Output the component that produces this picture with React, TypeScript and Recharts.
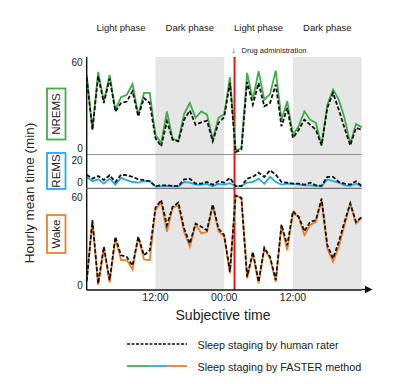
import React from 'react';
import { LineChart, Line, XAxis, YAxis, ReferenceArea, ReferenceLine } from 'recharts';

// hour index from the start of the recording (0 = 00:00 of day 1)
const hours = [
  0, 1, 2, 3, 4, 5, 6, 7, 8, 9, 10, 11, 12, 13, 14, 15, 16, 17, 18, 19, 20, 21, 22, 23, 24,
  25, 26, 27, 28, 29, 30, 31, 32, 33, 34, 35, 36, 37, 38, 39, 40, 41, 42, 43, 44, 45, 46, 47, 48,
];

const nremsHuman = [
  50, 15, 51, 33, 49.4, 27.4, 33, 34, 41, 24, 36.4, 33, 9.4, 3.8, 20.7, 8.3, 7.2, 21.8, 27.9, 18.4, 20, 21.1, 7.2, 19.6, 23.4,
  46.5, 0, 1.6, 47.2, 31.9, 46.5, 30.8, 33, 45.4, 17.3, 29.7, 9.4, 15, 21.8, 18.4, 15, 4.5, 29.7, 39.8, 28.5, 16.2, 4.5, 16.2, 15,
];
const nremsFaster = [
  52, 15, 54, 34, 52, 28.5, 37, 38.6, 45.8, 25, 39.8, 39.8, 11.7, 6, 27.4, 8.8, 7.6, 25.6, 33, 23, 27.4, 25.2, 8.3, 23, 25.6,
  50.4, 0.9, 2.7, 53.3, 35.3, 54.4, 35.3, 39, 54.8, 21.8, 34.2, 11.7, 17.3, 27.4, 21.8, 19.6, 4.5, 31.9, 42, 35.3, 23, 5.4, 18.9, 16.6,
];
const remsHuman = [
  9.3, 6.1, 8.2, 5, 8.8, 3.5, 9.3, 8.8, 7.5, 5.6, 5, 4.1, 0.2, 0.9, 0.9, 0.5, 0.2, 5.6, 6.1, 2.2, 2.2, 3.5, 1.4, 4.1, 3,
  6.7, 0.2, 0.2, 6.1, 7.5, 10.8, 7.5, 12.7, 9.3, 3.5, 3, 2.2, 2.2, 1.4, 3, 0.9, 0.5, 7.5, 7.5, 3.5, 2.2, 1.4, 4.1, 0.2,
];
const remsFaster = [
  7.5, 4.1, 5.6, 2.2, 6.1, 1.4, 6.7, 4.9, 3.5, 3, 4.1, 4.1, 0, 0.2, 0.5, 0.2, 0, 3.5, 3, 1.4, 1.4, 2, 0.2, 2, 1.4,
  2.6, 0.2, 0.2, 3, 3.5, 6.1, 2.2, 7.5, 3.5, 1.4, 2.2, 2, 1.4, 0.9, 0.9, 0.5, 0.2, 5.6, 4.1, 3, 0.9, 0.5, 2.2, 0,
];
const wakeHuman = [
  4, 43.8, 2.2, 26.4, 4.5, 32.9, 20.8, 19.7, 14, 32.9, 20.8, 24, 52, 57, 40.5, 52.6, 55.4, 38.4, 28.5, 41.6, 39.5, 37.2, 54.1, 38.4, 34,
  10, 60, 58.5, 6.7, 23, 3.4, 25.7, 19.8, 4.5, 41, 27.4, 49.7, 46, 36.6, 42.7, 43.8, 58, 27.4, 18.7, 29.6, 42.7, 54.8, 42.7, 46,
];
const wakeFaster = [
  3.4, 43.8, 1.2, 25.7, 2.8, 31.8, 17.6, 17.6, 11.5, 32.9, 18, 17.6, 50.4, 55.9, 36.2, 52, 53.6, 36.2, 26.4, 41, 35.1, 36.2, 53.6, 36.6, 33,
  8.9, 60, 58.5, 5.6, 22, 2.3, 25.2, 18.7, 3.4, 40.1, 24.1, 48.2, 46, 34, 40.5, 42.7, 56.9, 25.2, 16.5, 26.4, 40.5, 54.8, 41.6, 45.4,
];

const timeTicks = [12, 24, 36];
const timeLabels = ['12:00', '00:00', '12:00'];
const darkPhases = [[12, 24], [36, 48]];
const phaseLabels = ['Light phase', 'Dark phase', 'Light phase', 'Dark phase'];
const drugHour = 25.8;

const GREEN = '#3fae49';
const BLUE = '#27aae1';
const ORANGE = '#f07f2a';
const RED = '#e8141b';
const SHADE = '#e6e6e6';
const SEP = '#707070';

const W = 400;
const PLOT_L = 86.7;
const PLOT_R = 361.7;
const FONT = '"Liberation Sans", Arial, sans-serif';

const hx = (h: number) => PLOT_L + (h / 48) * (PLOT_R - PLOT_L);

const makeData = (human: number[], faster: number[]) =>
  hours.map((h, i) => ({ h, human: human[i], faster: faster[i] }));

const YTick = ({ x, y, payload, shift }: any) => (
  <text
    x={x}
    y={y + (shift[payload.value] || 0)}
    textAnchor="end"
    dominantBaseline="central"
    fontSize={10}
    fill="#222"
  >
    {payload.value}
  </text>
);

type PanelProps = {
  top: number;
  height: number;
  domain: [number, number];
  ticks: number[];
  shift: Record<number, number>;
  human: number[];
  faster: number[];
  color: string;
  showX?: boolean;
  sepLine?: boolean;
};

const Panel = ({ top, height, domain, ticks, shift, human, faster, color, showX, sepLine }: PanelProps) => {
  const xh = showX ? 30 : 0;
  return (
    <div style={{ position: 'absolute', left: 0, top, width: W, height: height + xh }}>
      <LineChart
        width={W}
        height={height + xh}
        data={makeData(human, faster)}
        margin={{ top: 0, right: W - PLOT_R, bottom: 0, left: 0 }}
        style={{ overflow: 'visible' }}
      >
        {darkPhases.map(([a, b]) => (
          <ReferenceArea key={a} x1={a} x2={b} fill={SHADE} fillOpacity={1} stroke="none" />
        ))}
        <XAxis
          dataKey="h"
          type="number"
          domain={[0, 48]}
          ticks={timeTicks}
          hide={!showX}
          height={xh}
          interval={0}
          tickFormatter={(v: number) => timeLabels[timeTicks.indexOf(v)]}
          tickLine={false}
          tickSize={0}
          tickMargin={4}
          axisLine={{ stroke: '#111', strokeWidth: 1.4 }}
          tick={{ fontSize: 10.5, fill: '#222' }}
        />
        <YAxis
          type="number"
          domain={domain}
          ticks={ticks}
          interval={0}
          width={PLOT_L}
          tickLine={false}
          tickSize={0}
          tickMargin={4}
          allowDataOverflow
          axisLine={{ stroke: '#111', strokeWidth: 1.4 }}
          tick={<YTick shift={shift} />}
        />
        {sepLine && <ReferenceLine y={domain[0]} stroke={SEP} strokeWidth={1.5} />}
        <ReferenceLine x={drugHour} stroke={RED} strokeWidth={2} />
        <Line
          type="linear"
          dataKey="faster"
          stroke={color}
          strokeWidth={1.8}
          dot={false}
          isAnimationActive={false}
        />
        <Line
          type="linear"
          dataKey="human"
          stroke="#111"
          strokeWidth={1.8}
          strokeDasharray="4 2"
          dot={false}
          isAnimationActive={false}
        />
      </LineChart>
    </div>
  );
};

const BoxLabel = ({ x, y, w, h, color, text }: any) => (
  <g>
    <rect x={x} y={y} width={w} height={h} fill="#fff" stroke={color} strokeWidth={1.8} />
    <text
      x={x + w / 2}
      y={y + h / 2}
      transform={`rotate(-90 ${x + w / 2} ${y + h / 2})`}
      textAnchor="middle"
      dominantBaseline="central"
      fontSize={11.5}
      fill="#222"
    >
      {text}
    </text>
  </g>
);

export default function App() {
  return (
    <div
      style={{
        position: 'absolute',
        left: 0,
        top: 0,
        width: W,
        height: 384,
        background: '#fff',
        fontFamily: FONT,
        overflow: 'hidden',
      }}
    >
      <Panel
        top={57}
        height={98}
        domain={[-2, 64]}
        ticks={[0, 60]}
        shift={{ 0: -3.5 }}
        human={nremsHuman}
        faster={nremsFaster}
        color={GREEN}
        sepLine
      />
      <Panel
        top={155}
        height={33.5}
        domain={[-1.6, 24.7]}
        ticks={[0, 20]}
        shift={{ 0: -4 }}
        human={remsHuman}
        faster={remsFaster}
        color={BLUE}
        sepLine
      />
      <Panel
        top={188.5}
        height={101}
        domain={[-2, 64.3]}
        ticks={[0, 60]}
        shift={{ 0: -1.5, 60: 1.5 }}
        human={wakeHuman}
        faster={wakeFaster}
        color={ORANGE}
        showX
      />

      <svg
        width={W}
        height={384}
        style={{ position: 'absolute', left: 0, top: 0, pointerEvents: 'none', fontFamily: FONT }}
      >
        {phaseLabels.map((t, i) => (
          <text key={i} x={hx(i * 12 + 6)} y={27} textAnchor="middle" dominantBaseline="central" fontSize={9.5} fill="#222">
            {t}
          </text>
        ))}
        <text x={hx(drugHour) - 1} y={50} textAnchor="middle" dominantBaseline="central" fontSize={8} fill="#222">
          ↓
        </text>
        <text x={hx(drugHour) + 7} y={50} dominantBaseline="central" fontSize={7.5} fill="#222">
          Drug administration
        </text>

        <text
          x={29.5}
          y={193}
          transform="rotate(-90 29.5 193)"
          textAnchor="middle"
          dominantBaseline="central"
          fontSize={13.5}
          fill="#222"
        >
          Hourly mean time (min)
        </text>
        <BoxLabel x={47} y={88.5} w={18.5} h={51} color={GREEN} text="NREMS" />
        <BoxLabel x={47} y={153} w={18.5} h={36} color={BLUE} text="REMS" />
        <BoxLabel x={47} y={215} w={18.5} h={38} color={ORANGE} text="Wake" />

        <line x1={PLOT_R} y1={289.5} x2={367} y2={289.5} stroke="#111" strokeWidth={1.4} />
        <path d="M 365 285.8 L 372.5 289.5 L 365 293.2 Z" fill="#111" />

        <text x={223} y={315} textAnchor="middle" dominantBaseline="central" fontSize={14} fill="#222">
          Subjective time
        </text>

        <line x1={127} y1={344} x2={187} y2={344} stroke="#111" strokeWidth={1.6} strokeDasharray="3 1.5" />
        <text x={197.5} y={345} dominantBaseline="central" fontSize={10.8} fill="#222">
          Sleep staging by human rater
        </text>
        <line x1={127} y1={366} x2={147} y2={366} stroke={GREEN} strokeWidth={1.8} />
        <line x1={147} y1={366} x2={167} y2={366} stroke={BLUE} strokeWidth={1.8} />
        <line x1={167} y1={366} x2={187} y2={366} stroke={ORANGE} strokeWidth={1.8} />
        <text x={197.5} y={366.5} dominantBaseline="central" fontSize={10.8} fill="#222">
          Sleep staging by FASTER method
        </text>
      </svg>
    </div>
  );
}
